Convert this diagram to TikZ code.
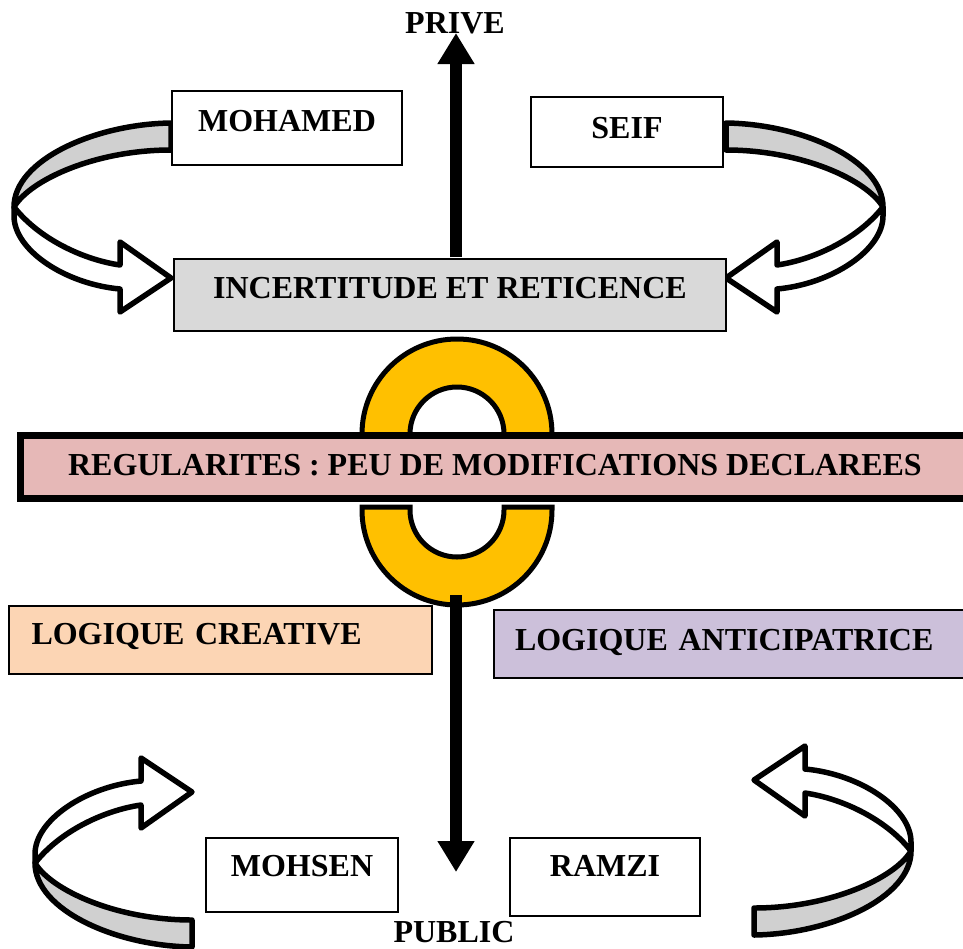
\documentclass[tikz,border=0pt]{standalone}
\usepackage{fontspec}
\setmainfont{Liberation Serif}
\usetikzlibrary{arrows.meta}
\definecolor{bandgray}{HTML}{D0D0D0}
\definecolor{incgray}{HTML}{D9D9D9}
\definecolor{bannerpink}{HTML}{E6B8B7}
\definecolor{ringgold}{HTML}{FFC000}
\definecolor{peach}{HTML}{FCD5B4}
\definecolor{lilac}{HTML}{CCC0DA}
\tikzset{
  txt/.style={font=\bfseries\fontsize{32}{38}\selectfont},
  box/.style={txt, draw=black, line width=1.5pt, fill=white, inner sep=0pt, text height=21pt},
  ribbon/.style={draw=black, line width=5.5pt, line join=round},
  bigarrow/.style={line width=12pt, -{Triangle[width=35pt,length=31pt]}},
}
\newcommand\myBentArrow{%
  \filldraw[ribbon, fill=bandgray] (171,123) .. controls (95,124) and (14,160) .. (14,207)
     .. controls (30,180) and (95,150) .. (171,150) -- cycle;
  \filldraw[ribbon, fill=white] (14,207) .. controls (40,240) and (85,260) .. (120,265)
     -- (120,242) -- (171,278) -- (120,312) -- (120,289)
     .. controls (65,284) and (14,250) .. (14,216) -- cycle;
}
\begin{document}
\begin{tikzpicture}[x=1pt,y=-1pt]
\useasboundingbox (0,0) rectangle (963,948);
\clip (0,0) rectangle (963,948);

% curved ribbon arrows
\begin{scope}\myBentArrow\end{scope}
\begin{scope}[shift={(897,0)}, xscale=-1]\myBentArrow\end{scope}
\begin{scope}[shift={(21,1070)}, yscale=-1]\myBentArrow\end{scope}
\begin{scope}[shift={(925,1058)}, xscale=-1, yscale=-1]\myBentArrow\end{scope}

% boxes
\node[box, minimum width=230pt, minimum height=74pt, text depth=14pt] (mohamed) at (287,128) {MOHAMED};
\node[box, minimum width=192pt, minimum height=70pt, text depth=8pt] (seif) at (627,132) {SEIF};
\node[box, fill=incgray, minimum width=552pt, minimum height=72pt, text depth=14pt] (incert) at (450,295) {INCERTITUDE ET RETICENCE};

% ring (two halves)
\filldraw[draw=black, line width=5pt, fill=ringgold]
  (362,447) -- (362,434) arc[start angle=180, end angle=0, radius=95pt] -- (552,447)
  -- (504,447) -- (504,434) arc[start angle=0, end angle=180, radius=47pt] -- (410,447) -- cycle;
\filldraw[draw=black, line width=5pt, fill=ringgold]
  (362,507) -- (362,510) arc[start angle=180, end angle=360, radius=95pt] -- (552,507)
  -- (504,507) -- (504,510) arc[start angle=0, end angle=-180, radius=47pt] -- (410,507) -- cycle;

% banner
\node[box, fill=bannerpink, line width=7pt, minimum width=950pt, minimum height=63pt, text depth=4pt] (banner) at (495,467) {REGULARITES : PEU DE MODIFICATIONS DECLAREES};

% logic boxes
\node[box, fill=peach, minimum width=423pt, minimum height=68pt, text width=378pt, align=left, text depth=12pt] (creative) at (220.5,640) {LOGIQUE CREATIVE};
\node[box, fill=lilac, minimum width=490pt, minimum height=68pt, text width=448pt, align=left, text depth=8pt] (anticip) at (739,644) {LOGIQUE ANTICIPATRICE};

\node[box, minimum width=192pt, minimum height=74pt, text depth=18pt] (mohsen) at (302,875) {MOHSEN};
\node[box, minimum width=190pt, minimum height=78pt, text depth=22pt] (ramzi) at (605,877) {RAMZI};

% axis labels
\node[txt, anchor=base, inner sep=0pt] (prive) at (455,33) {PRIVE};
\node[txt, anchor=base, inner sep=0pt] (public) at (454,942) {PUBLIC};

% vertical arrows
\coordinate (upstart) at (456,257);
\coordinate (uptip) at (456,33);
\coordinate (ringbottom) at (456,595);
\coordinate (downtip) at (456,872);
\draw[bigarrow] (upstart) -- (uptip);
\draw[bigarrow] (ringbottom) -- (downtip);
\end{tikzpicture}
\end{document}
